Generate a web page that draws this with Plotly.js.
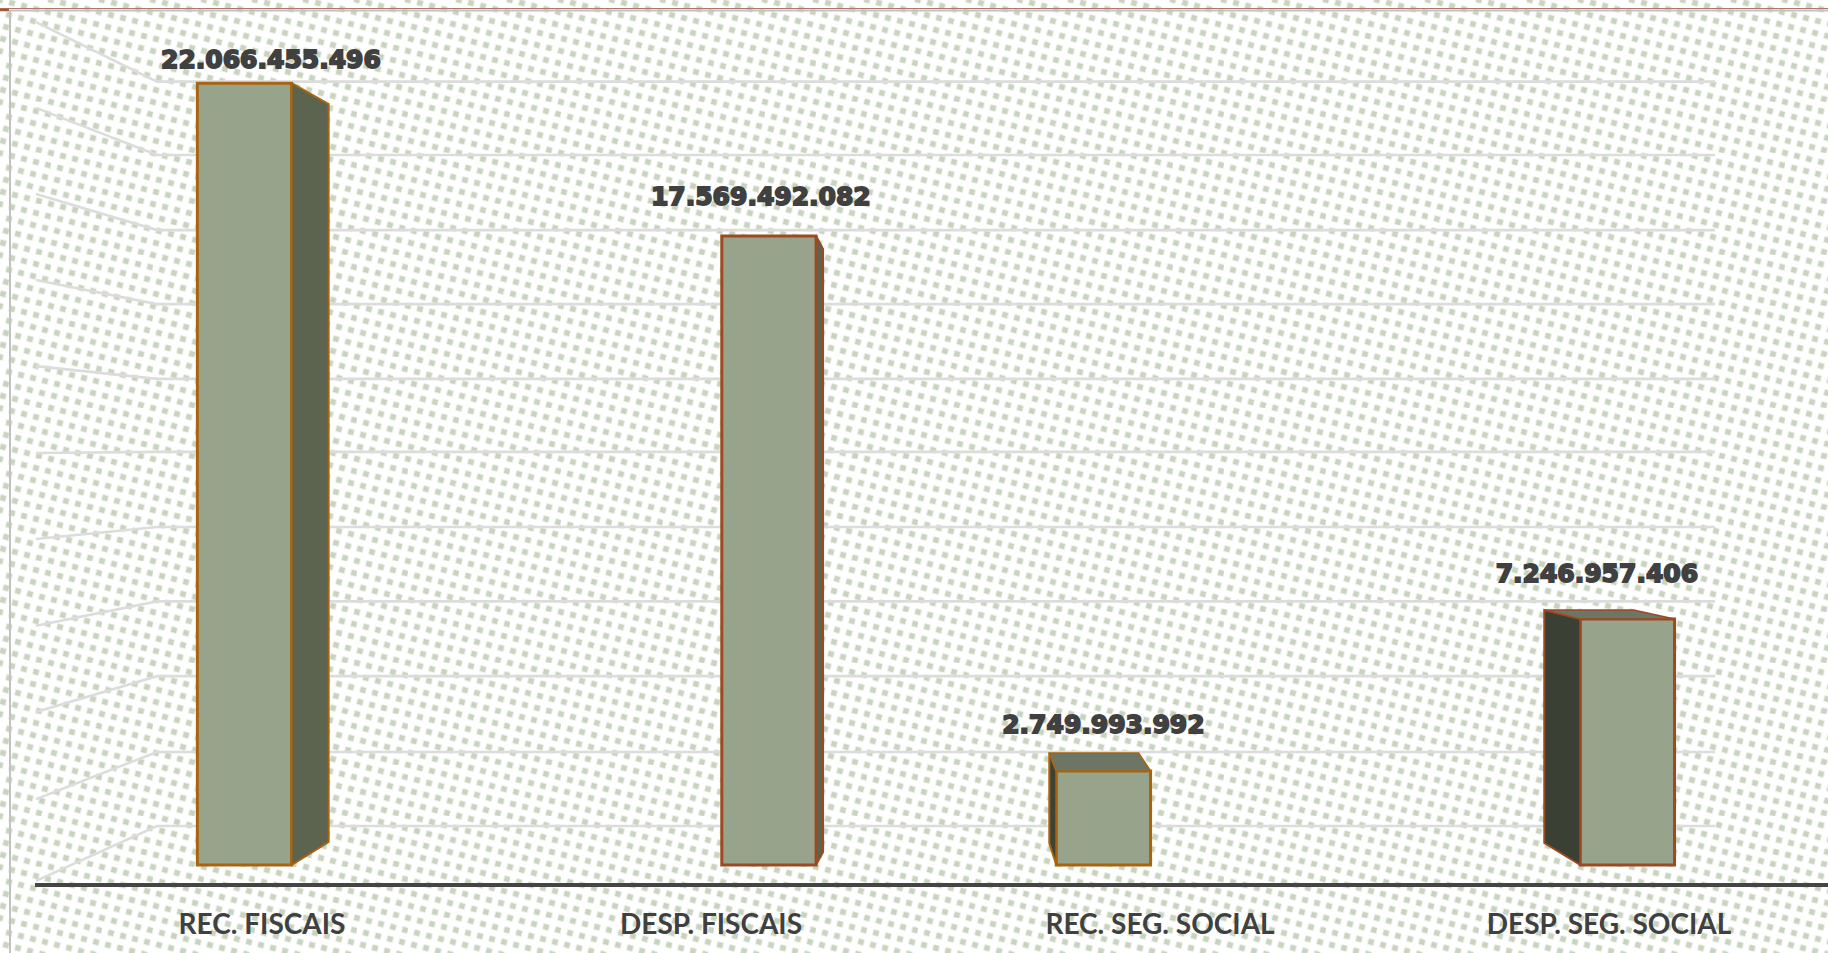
<!DOCTYPE html>
<html><head><meta charset="utf-8">
<script src="https://cdn.plot.ly/plotly-3.0.1.min.js"></script>
<style>
html,body{margin:0;padding:0;width:1828px;height:953px;overflow:hidden;background-color:#fff}
#chart{width:1828px;height:953px}
.textpoint text{stroke:#404040;stroke-width:1.8px}
</style></head><body><div id="chart"></div>
<script>
// ---- data ----
const categories = ["REC. FISCAIS","DESP. FISCAIS","REC. SEG. SOCIAL","DESP. SEG. SOCIAL"];
const values = [22066455496,17569492082,2749993992,7246957406];
const valueLabels = ["22.066.455.496","17.569.492.082","2.749.993.992","7.246.957.406"];
// 3-D perspective of the original: each bar stands at its own depth, so it is foreshortened and shifted
const depthScale = [1,1.0104,0.9648,0.958];
const barShift = [-0.039,0.129,-0.126,0.041];
const barWidth = 0.21;
const labelShift = [0.02,0.111,-0.126,-0.027];
const labelLift = [21,37,44,43];
// wall grid levels, billions: back wall, and where each line ends on the left wall
const gridLevels = [22.11,20.04,17.92,15.83,13.72,11.66,9.54,7.44,5.33,3.19,1.10];
const wallLevels = [23.79,21.37,18.94,16.51,14.08,11.63,9.20,6.75,4.32,1.86,-0.45];
// side faces: [horizontal depth px, drop at top px, rise at bottom px]
const sideFaces = [[37,21,23],[7,13,13],[-7,-18,22],[-36,-9,22]];
const lineColors = ["#a9640f","#9c4a22","#a9640f","#9c4a22"];
const sideColors = ["#5c634f","#5c634f","#3c4235","#3b4034"];
const topColor = "#6d7665";
const frontColor = "#98a38b";

// ---- geometry ----
const W=1828,H=953,axisY=883,left=35,pxPerCat=449,firstTick=262,pxPerUnit=35.43/1e9,zeroY=865;
const plotH=axisY;
const xRange=[(left-firstTick)/pxPerCat,(W-firstTick)/pxPerCat];
const yRange=[(zeroY-axisY)/pxPerUnit,zeroY/pxPerUnit];
const dx=p=>p/pxPerCat, dy=p=>p/pxPerUnit;
const tops=values.map((v,i)=>v*depthScale[i]);
const px2=x=>(x-left)/(W-left);

// ---- background texture ----
let dots='';
for(let k=0;k<17;k++){
  const x=(12*k)%51,y=(3*k)%51;
  for(const [ox,oy] of [[0,0],[51,0],[0,51],[51,51]]){
    const cx=x+ox,cy=y+oy;
    dots+=`<rect x="${cx-3.7}" y="${cy-3.7}" width="7.4" height="7.4" rx="1.6" transform="rotate(14 ${cx} ${cy})" fill="#eef2ea"/>`;
    dots+=`<rect x="${cx-2.6}" y="${cy-2.6}" width="5.2" height="5.2" rx="0.8" transform="rotate(14 ${cx} ${cy})" fill="#c9d4c0"/>`;
  }
}
const tile=`<svg xmlns="http://www.w3.org/2000/svg" width="51" height="51">${dots}</svg>`;
document.body.style.backgroundImage=`url("data:image/svg+xml,${encodeURIComponent(tile)}")`;

// ---- traces ----
const traces=[];
traces.push({type:'bar',x:[0,1,2,3],y:tops,width:barWidth,offset:barShift.map(s=>s-barWidth/2),
  marker:{color:frontColor,line:{color:lineColors,width:3}},hoverinfo:'skip',showlegend:false});
values.forEach((v,i)=>{
  const [d,dropTop,riseBottom]=sideFaces[i];
  const edge=i+barShift[i]+(d>0?1:-1)*barWidth/2;
  const y1=tops[i];
  traces.push({type:'scatter',mode:'lines',fill:'toself',fillcolor:sideColors[i],
    x:[edge,edge+dx(d),edge+dx(d),edge,edge],
    y:[y1,y1-dy(dropTop),dy(riseBottom),0,y1],
    line:{color:lineColors[i],width:2},hoverinfo:'skip',showlegend:false});
  if(d<0){
    const far=i+barShift[i]+barWidth/2, l=i+barShift[i]-barWidth/2;
    const inset=i===2?dx(12):dx(41);
    traces.push({type:'scatter',mode:'lines',fill:'toself',fillcolor:topColor,
      x:[l,l+dx(d),far-inset,far,l],
      y:[y1,y1-dy(dropTop),y1-dy(dropTop),y1,y1],
      line:{color:lineColors[i],width:1.6},hoverinfo:'skip',showlegend:false});
  }
});
traces.push({type:'scatter',mode:'text',x:values.map((v,i)=>i+labelShift[i]),
  y:tops.map((t,i)=>t+dy(labelLift[i])),text:valueLabels,textposition:'middle center',
  textfont:{family:'"DejaVu Sans"',size:25,weight:700,color:'#404040'},hoverinfo:'skip',showlegend:false});

// ---- wall lines ----
const gridColor='#dcdcdc';
const elbowX=(157-firstTick)/pxPerCat, endX=(1715-firstTick)/pxPerCat, wallX=(36-firstTick)/pxPerCat;
const shapes=gridLevels.map((g,i)=>({type:'path',layer:'below',xref:'x',yref:'y',
  path:`M ${wallX} ${wallLevels[i]*1e9} L ${elbowX} ${g*1e9} L ${endX} ${g*1e9}`,
  line:{color:gridColor,width:2.6}}));
// window frame of the screenshot
shapes.push({type:'line',layer:'above',xref:'paper',yref:'paper',x0:px2(0),x1:1,y0:1-8.5/plotH,y1:1-8.5/plotH,line:{color:'#a97a68',width:1}});
shapes.push({type:'line',layer:'above',xref:'paper',yref:'paper',x0:px2(10),x1:1,y0:1-10.5/plotH,y1:1-10.5/plotH,line:{color:'#c2c2c2',width:2}});
shapes.push({type:'line',layer:'above',xref:'paper',yref:'paper',x0:px2(0),x1:px2(9),y0:1-10/plotH,y1:1-10/plotH,line:{color:'#a5573a',width:2.5}});
shapes.push({type:'line',layer:'above',xref:'paper',yref:'paper',x0:px2(10),x1:px2(10),y0:1-10/plotH,y1:1-H/plotH,line:{color:'#c2c2c2',width:2}});

Plotly.newPlot('chart',traces,{
  width:W,height:H,margin:{l:left,r:0,t:0,b:H-axisY,pad:0},
  paper_bgcolor:'rgba(0,0,0,0)',plot_bgcolor:'rgba(0,0,0,0)',showlegend:false,
  xaxis:{type:'linear',range:xRange,tickmode:'array',tickvals:[0,1,2,3],ticktext:categories,
    showgrid:false,zeroline:false,showline:true,linecolor:'#454545',linewidth:3.5,ticks:'',
    ticklabelstandoff:14,tickfont:{family:'Lato',size:28,weight:700,color:'#404040'}},
  yaxis:{range:yRange,showgrid:false,zeroline:false,showline:false,showticklabels:false,ticks:''},
  shapes:shapes
},{displayModeBar:false,staticPlot:true});
</script></body></html>
